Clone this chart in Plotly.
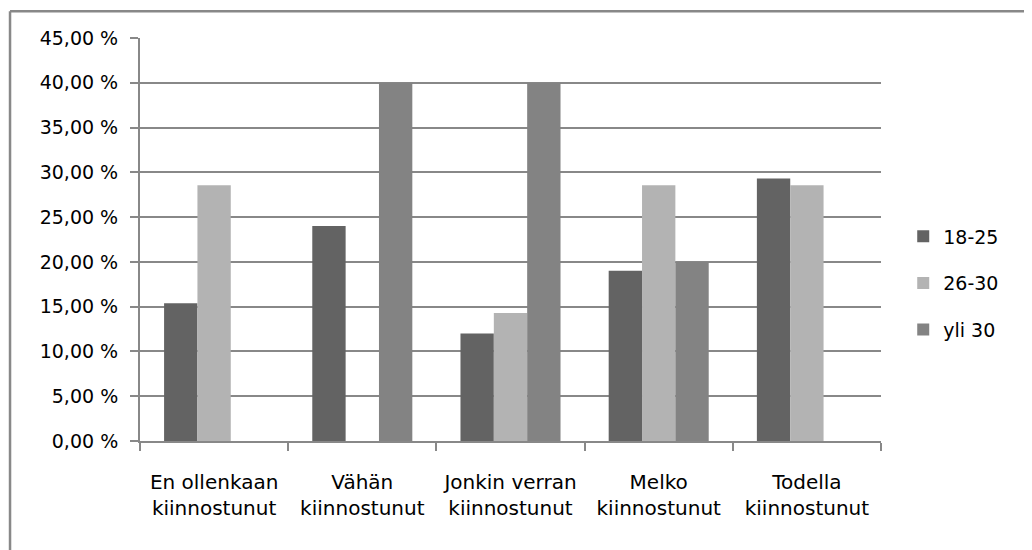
import plotly.graph_objects as go

# Survey answers by age group (share of respondents, %)
categories = [
    'En ollenkaan<br>kiinnostunut',
    'Vähän<br>kiinnostunut',
    'Jonkin verran<br>kiinnostunut',
    'Melko<br>kiinnostunut',
    'Todella<br>kiinnostunut',
]
age_18_25 = [15.38, 24.0, 12.0, 19.0, 29.3]
age_26_30 = [28.57, 0.0, 14.29, 28.57, 28.57]
age_over_30 = [0.0, 40.0, 40.0, 20.0, 0.0]

series_names = ['18-25', '26-30', 'yli 30']
series_colors = ['#636363', '#b3b3b3', '#838383']

GRID = '#888888'
FONT = 'DejaVu Sans'
FSIZE = 19

fig = go.Figure()

# One bar trace per age group
for name, values, color in zip(series_names, [age_18_25, age_26_30, age_over_30], series_colors):
    fig.add_trace(go.Bar(
        x=categories,
        y=values,
        name=name,
        legendgroup=name,
        marker=dict(color=color, line=dict(width=0)),
    ))

# page body has an 8px margin, so the figure is 8px smaller than the window
fig.update_layout(
    width=1024,
    height=542,
    barmode='group',
    bargap=0.325,
    bargroupgap=0,
    separators=', ',
    plot_bgcolor='white',
    paper_bgcolor='white',
    font=dict(family=FONT, size=FSIZE, color='black'),
    margin=dict(l=132, r=151, t=30, b=109),
    xaxis=dict(
        showgrid=False,
        showline=True,
        linecolor=GRID,
        linewidth=2,
        ticks='outside',
        tickson='boundaries',
        ticklen=8,
        tickwidth=2,
        tickcolor=GRID,
        ticklabelstandoff=22,
        tickfont=dict(family=FONT, size=20),
    ),
    yaxis=dict(
        range=[0, 45],
        dtick=5,
        tickformat='.2f',
        ticksuffix=' %',
        showgrid=True,
        gridcolor=GRID,
        gridwidth=2,
        showline=True,
        linecolor=GRID,
        linewidth=2,
        ticks='outside',
        ticklen=8,
        tickwidth=2,
        tickcolor=GRID,
        ticklabelstandoff=8,
        zeroline=False,
        tickfont=dict(family=FONT, size=FSIZE),
    ),
    legend=dict(
        x=1.03,
        y=0.555,
        xanchor='left',
        yanchor='top',
        tracegroupgap=19,
        font=dict(family=FONT, size=FSIZE),
        bgcolor='rgba(0,0,0,0)',
    ),
    showlegend=True,
)

# Chart frame (only its left and top edges fall inside the picture)
fig.add_shape(type='line', xref='paper', yref='paper',
              x0=-0.1754, x1=-0.1754, y0=-0.3, y1=1.0663,
              line=dict(color=GRID, width=2.5))
fig.add_shape(type='line', xref='paper', yref='paper',
              x0=-0.1754, x1=1.3, y0=1.0663, y1=1.0663,
              line=dict(color=GRID, width=2.5))

fig.write_html("out.html")
